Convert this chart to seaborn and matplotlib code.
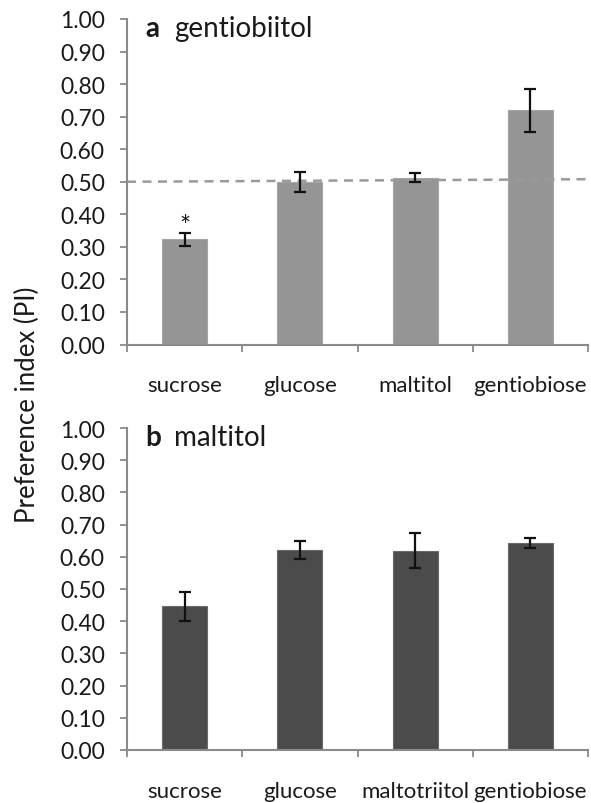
import matplotlib
matplotlib.use("Agg")
import matplotlib.pyplot as plt
import seaborn as sns
import numpy as np
import pandas as pd
from matplotlib.ticker import FixedLocator

# ---- data ----
cats_a = ["sucrose", "glucose", "maltitol", "gentiobiose"]
pi_a = [0.323, 0.500, 0.512, 0.719]
err_a = [0.019, 0.031, 0.014, 0.067]
title_a_letter = "a"
title_a = "gentiobiitol"
star_a = ["*", "", "", ""]

cats_b = ["sucrose", "glucose", "maltotriitol", "gentiobiose"]
pi_b = [0.446, 0.620, 0.619, 0.643]
err_b = [0.044, 0.028, 0.054, 0.016]
title_b_letter = "b"
title_b = "maltitol"

ref_x = [-0.5, 3.55]
ref_y = [0.500, 0.508]

yticks = [0.0, 0.1, 0.2, 0.3, 0.4, 0.5, 0.6, 0.7, 0.8, 0.9, 1.0]
ylabel = "Preference index (PI)"

# ---- style ----
sns.set_theme(style="white")
plt.rcParams["font.family"] = ["Lato", "DejaVu Sans"]
TXT = "#1a1a1a"
AX = "#8a8a8a"

W, H = 591, 804
fig = plt.figure(figsize=(W / 100, H / 100), dpi=100)

def px_axes(left, top, right, bottom):
    return fig.add_axes([left / W, 1 - bottom / H, (right - left) / W, (bottom - top) / H])

ax_a = px_axes(127, 20, 588, 345.5)
ax_b = px_axes(127, 429, 588, 751)

def draw(ax, cats, vals, errs, color, edge):
    df = pd.DataFrame({"cat": cats, "pi": vals})
    sns.barplot(data=df, x="cat", y="pi", order=cats, color=color, width=0.39,
                edgecolor=edge, linewidth=0.8, saturation=1, ax=ax)
    ax.errorbar(np.arange(len(cats)), vals, yerr=errs, fmt="none", ecolor="#111111",
                elinewidth=1.6, capsize=4.2, capthick=1.6, zorder=5)
    ax.set_xlim(-0.5, 3.5)
    ax.set_ylim(0, 1.0)
    ax.set_yticks(yticks)
    ax.set_yticklabels([f"{t:.2f}" for t in yticks])
    ax.set_xlabel("")
    ax.set_ylabel("")
    for s in ["top", "right"]:
        ax.spines[s].set_visible(False)
    for s in ["left", "bottom"]:
        ax.spines[s].set_color(AX)
        ax.spines[s].set_linewidth(1.5)
    ax.tick_params(axis="y", which="major", direction="out", length=5, width=1.3,
                   color=AX, labelsize=16.5, labelcolor=TXT, pad=11, left=True)
    ax.tick_params(axis="x", which="major", length=0, labelsize=16, labelcolor=TXT, pad=22,
                   bottom=True)
    ax.xaxis.set_minor_locator(FixedLocator([-0.5, 0.5, 1.5, 2.5, 3.5]))
    ax.tick_params(axis="x", which="minor", direction="out", length=5, width=1.3,
                   color=AX, bottom=True)
    ax.set_facecolor("none")

draw(ax_a, cats_a, pi_a, err_a, "#959595", "#a5a5a5")
draw(ax_b, cats_b, pi_b, err_b, "#4b4b4b", "#6a6a6a")

# reference line in panel a
ax_a.plot(ref_x, ref_y, linestyle=(0, (3.6, 2.6)), color="#9a9a9a", linewidth=1.8,
          clip_on=False, zorder=1)

# significance marks
for i, (v, e, s) in enumerate(zip(pi_a, err_a, star_a)):
    if s:
        ax_a.text(i, v + e - 0.018, s, ha="center", va="bottom", fontsize=19, color=TXT)

# panel titles
def title(letter, name, y_base_px):
    fig.text(145 / W, 1 - y_base_px / H, letter, fontsize=20, fontweight="bold",
             color=TXT, va="baseline", ha="left")
    fig.text(174 / W, 1 - y_base_px / H, name, fontsize=20, color=TXT,
             va="baseline", ha="left")

title(title_a_letter, title_a, 37)
title(title_b_letter, title_b, 446)

fig.text(27 / W, 1 - 405 / H, ylabel, rotation=90, fontsize=18.5, color=TXT,
         ha="center", va="center")

fig.savefig("out.png", dpi=100)
